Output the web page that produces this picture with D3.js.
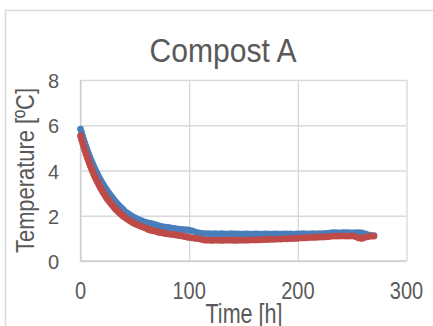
<!DOCTYPE html>
<html>
<head>
<meta charset="utf-8">
<script src="https://cdn.jsdelivr.net/npm/d3@7"></script>
<style>
  html, body { margin: 0; padding: 0; background: #ffffff; }
  svg { display: block; }
</style>
</head>
<body>
<svg id="chart" width="433" height="326"></svg>
<script>
// ---- data ----
const title = "Compost A";
const xTitle = "Time [h]";
const yTitle = "Temperature [ºC]";
const xTicks = [0, 100, 200, 300];
const yTicks = [0, 2, 4, 6, 8];

const time = [
  0,1,2,3,4,5,6,7,8,9,10,11,12,13,14,15,16,17,18,19,20,
  21,22,23,24,25,26,27,28,29,30,31,32,33,34,35,36,37,38,39,40,
  42,44,46,48,50,52,54,56,58,60,
  62,64,66,68,70,72,74,76,78,80,82,84,86,88,90,92,94,96,98,100,
  103,106,109,112,115,118,121,124,127,130,133,136,139,142,145,148,151,154,157,160,
  163,166,169,172,175,178,181,184,187,190,193,196,199,202,205,208,211,214,217,220,
  223,226,229,232,235,238,241,244,247,250,253,256,259,262,265,268,270
];

const seriesBlue = [
  5.83,5.67,5.51,5.35,5.21,5.06,4.93,4.79,4.67,4.54,4.42,4.31,4.20,4.09,3.99,3.89,3.79,3.70,3.61,3.52,3.44,
  3.36,3.28,3.21,3.14,3.07,3.00,2.93,2.87,2.81,2.74,2.68,2.62,2.57,2.51,2.46,2.41,2.36,2.32,2.27,2.23,
  2.15,2.08,2.02,1.96,1.91,1.86,1.82,1.78,1.74,1.71,
  1.68,1.66,1.64,1.62,1.58,1.55,1.53,1.51,1.50,1.49,1.47,1.45,1.44,1.42,1.41,1.40,1.39,1.38,1.37,1.36,
  1.33,1.28,1.24,1.22,1.21,1.21,1.20,1.21,1.20,1.21,1.20,1.20,1.21,1.20,1.20,1.19,1.20,1.20,1.19,1.20,
  1.20,1.19,1.20,1.20,1.19,1.20,1.20,1.19,1.20,1.20,1.20,1.19,1.20,1.20,1.21,1.20,1.20,1.21,1.20,1.21,
  1.21,1.22,1.23,1.25,1.25,1.24,1.25,1.25,1.25,1.24,1.25,1.25,1.24,1.20,1.15,1.12,1.12
];

const seriesRed = [
  5.53,5.36,5.20,5.04,4.89,4.74,4.60,4.47,4.34,4.21,4.09,3.97,3.86,3.75,3.65,3.55,3.46,3.36,3.27,3.18,3.10,
  3.02,2.95,2.87,2.80,2.73,2.67,2.61,2.54,2.49,2.43,2.37,2.32,2.27,2.22,2.17,2.13,2.08,2.04,2.00,1.96,
  1.89,1.82,1.76,1.70,1.65,1.61,1.57,1.53,1.49,1.46,
  1.40,1.37,1.35,1.33,1.30,1.27,1.25,1.24,1.22,1.20,1.19,1.18,1.17,1.15,1.14,1.12,1.10,1.08,1.06,1.04,
  1.02,1.00,0.98,0.95,0.92,0.92,0.91,0.92,0.92,0.91,0.92,0.92,0.92,0.91,0.92,0.92,0.92,0.92,0.93,0.93,
  0.93,0.94,0.95,0.95,0.96,0.96,0.97,0.97,0.98,0.98,0.99,1.00,1.00,1.02,1.02,1.03,1.04,1.04,1.05,1.06,
  1.06,1.07,1.08,1.10,1.10,1.10,1.11,1.10,1.10,1.11,1.08,1.02,1.00,1.05,1.08,1.10,1.10
];

const colorBlue = "#4A7EBB";
const colorRed = "#BE4B48";

// ---- drawing ----
const svg = d3.select("#chart");
const font = "'Liberation Sans', Arial, sans-serif";
const textColor = "#595959";
const gridColor = "#d9d9d9";

svg.append("rect").attr("width", 433).attr("height", 326).attr("fill", "#fff");

// outer chart border (extends past the window on right and bottom)
svg.append("path")
  .attr("d", "M5.5,340 L5.5,10.5 L440,10.5")
  .attr("fill", "none").attr("stroke", "#d9d9d9").attr("stroke-width", 1.5);

const x = d3.scaleLinear().domain([0, 300]).range([80.5, 406.5]);
const y = d3.scaleLinear().domain([0, 8]).range([261, 80]);

// horizontal gridlines via axis
const yGrid = d3.axisLeft(y).tickValues(yTicks).tickSize(-(x.range()[1] - x.range()[0])).tickFormat("");
const gy = svg.append("g").attr("transform", `translate(${x(0)},0)`).call(yGrid);
gy.select(".domain").remove();
gy.selectAll("line").attr("stroke", gridColor).attr("stroke-width", 1.3);

// vertical gridlines via axis
const xGrid = d3.axisBottom(x).tickValues(xTicks).tickSize(-(y.range()[0] - y.range()[1])).tickFormat("");
const gx = svg.append("g").attr("transform", `translate(0,${y(0)})`).call(xGrid);
gx.select(".domain").remove();
gx.selectAll("line").attr("stroke", gridColor).attr("stroke-width", 1.3);

// axis lines
svg.append("line").attr("x1", x(0)).attr("x2", x(0)).attr("y1", y(8)).attr("y2", y(0))
  .attr("stroke", "#cfcfcf").attr("stroke-width", 1.3);
svg.append("line").attr("x1", x(0)).attr("x2", x(300)).attr("y1", y(0)).attr("y2", y(0))
  .attr("stroke", "#cfcfcf").attr("stroke-width", 1.3);

// y tick labels
svg.append("g").selectAll("text").data(yTicks).join("text")
  .attr("x", 59).attr("y", d => y(d) + 8)
  .attr("text-anchor", "end")
  .attr("font-family", font).attr("font-size", 20).attr("fill", textColor)
  .text(d => d);

// x tick labels (slightly condensed)
svg.append("g").selectAll("g").data(xTicks).join("g")
  .attr("transform", d => `translate(${x(d)},299) scale(0.87,1)`)
  .append("text")
  .attr("text-anchor", "middle")
  .attr("font-family", font).attr("font-size", 23).attr("fill", textColor)
  .text(d => d);

// data points
const pts = time.map((t, i) => ({t, b: seriesBlue[i], r: seriesRed[i]}));
svg.append("g").selectAll("circle").data(pts).join("circle")
  .attr("cx", d => x(d.t)).attr("cy", d => y(d.b)).attr("r", 3.4).attr("fill", colorBlue);
svg.append("g").selectAll("circle").data(pts).join("circle")
  .attr("cx", d => x(d.t)).attr("cy", d => y(d.r)).attr("r", 3.4).attr("fill", colorRed);

// title
svg.append("text")
  .attr("x", 223).attr("y", 61.5).attr("text-anchor", "middle")
  .attr("font-family", font).attr("font-size", 33).attr("fill", textColor)
  .attr("textLength", 147).attr("lengthAdjust", "spacingAndGlyphs")
  .text(title);

// y axis title
svg.append("text")
  .attr("transform", "translate(34,170.5) rotate(-90)")
  .attr("text-anchor", "middle")
  .attr("font-family", font).attr("font-size", 26.5).attr("fill", textColor)
  .attr("textLength", 165).attr("lengthAdjust", "spacingAndGlyphs")
  .text(yTitle);

// x axis title
svg.append("text")
  .attr("x", 244).attr("y", 322.5).attr("text-anchor", "middle")
  .attr("font-family", font).attr("font-size", 27).attr("fill", textColor)
  .attr("textLength", 77).attr("lengthAdjust", "spacingAndGlyphs")
  .text(xTitle);
</script>
</body>
</html>
